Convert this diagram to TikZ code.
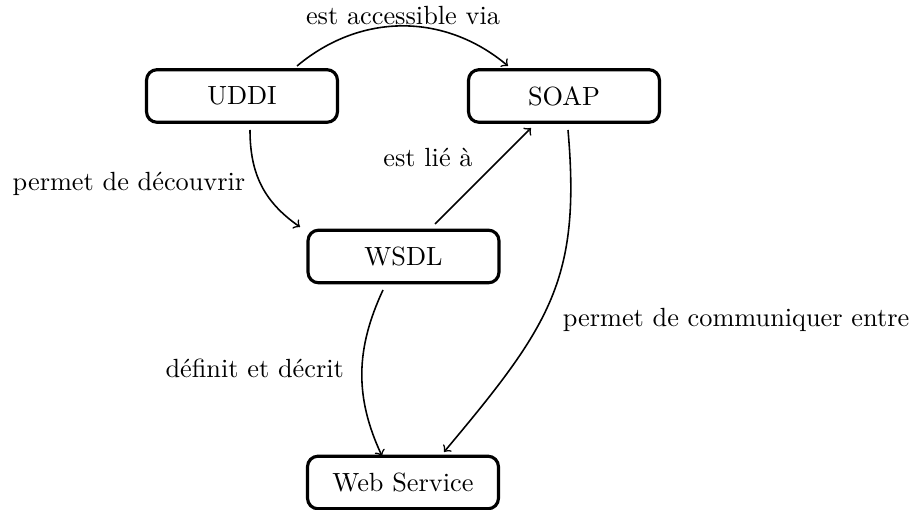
\documentclass[tikz,border=0pt]{standalone}
\usetikzlibrary{calc}
\begin{document}
\begin{tikzpicture}[x=0.3802pt,y=0.3802pt,
  box/.style={draw,very thick,rounded corners=4pt,minimum width=72.6pt,minimum height=20pt,inner sep=0pt},
  conn/.style={->,semithick},
  lbl/.style={anchor=base,inner sep=0pt}]
\useasboundingbox (0,0) rectangle (914,510);
\node[box] (UDDI) at (242,414) {UDDI};
\node[box] (SOAP) at (564,414) {SOAP};
\node[box] (WSDL) at (403.5,253.5) {WSDL};
\node[box] (WS) at (403,27.5) {Web Service};
% connectors
\draw[conn] ($(UDDI.center)+(55,30)$) .. controls +(40:83) and +(140:83) .. ($(SOAP.center)+(-56,30)$);
\draw[conn] ($(UDDI.center)+(8,-34)$) .. controls +(-90:45) and +(145:43) .. ($(WSDL.center)+(-103.5,29.5)$);
\draw[conn] ($(WSDL.center)+(31.5,32.5)$) -- ($(SOAP.center)+(-33,-32)$);
\draw[conn] ($(WSDL.center)+(-20.5,-33.5)$) .. controls +(-115:65) and +(115:65) .. ($(WS.center)+(-21,26.5)$);
\draw[conn] ($(SOAP.center)+(4,-34)$) .. controls +(-85:150) and +(50:165) .. ($(WS.center)+(41,30.5)$);
% labels
\node[lbl] (l1) at (403,485) {est accessible via};
\node[lbl] (l2) at (129,319) {permet de découvrir};
\node[lbl] (l3) at (428,343) {est lié à};
\node[lbl] (l4) at (254.7,132) {définit et décrit};
\node[lbl] (l5) at (736,183) {permet de communiquer entre};
\end{tikzpicture}
\end{document}
